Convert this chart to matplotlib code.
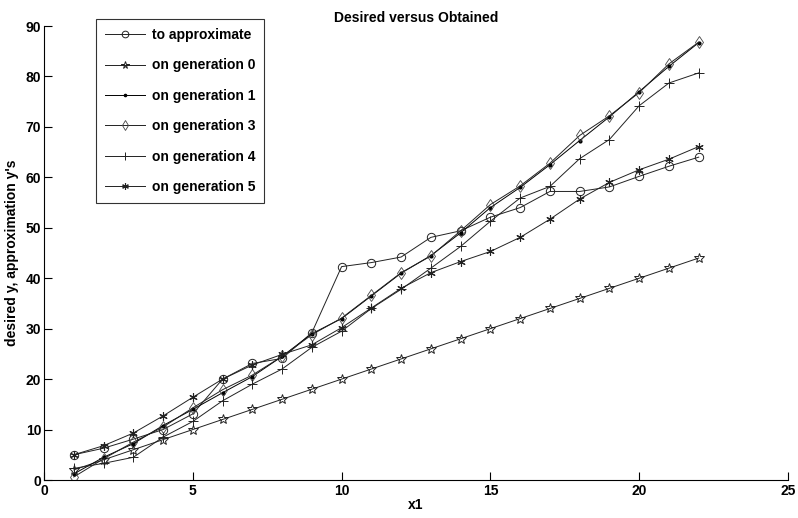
import matplotlib
matplotlib.use("Agg")
import matplotlib.pyplot as plt

x1 = list(range(1, 23))

to_approximate = [5, 6.3, 8.1, 10, 13.1, 20, 23.1, 24.1, 29.2, 42.3, 43.1, 44.2,
                  48.1, 49.4, 52.1, 54, 57.2, 57.2, 58.1, 60.2, 62.2, 64]
generation_0 = [2, 4, 6, 8, 10, 12, 14, 16, 18, 20, 22, 24,
                26, 28, 30, 32, 34, 36, 38, 40, 42, 44]
generation_1 = [1.2, 4.5, 7.2, 10.8, 14, 17.3, 20.5, 24.5, 29, 32, 36.5, 41,
                44.5, 49, 54, 58, 62.5, 67.3, 72, 77, 82, 86.7]
generation_3 = [0.6, 4.2, 7.5, 10.5, 14.3, 17.9, 20.8, 24.5, 28.8, 32.1, 36.6, 41.1,
                44.4, 49.4, 54.6, 58.3, 62.8, 68.3, 72.2, 76.8, 82.5, 86.8]
generation_4 = [2.3, 3.3, 4.5, 8.5, 11.6, 15.7, 19, 22, 26.3, 29.5, 34, 37.8,
                42, 46.3, 51.3, 55.9, 58.2, 63.7, 67.5, 74.2, 78.7, 80.7]
generation_5 = [5, 6.8, 9.3, 12.7, 16.4, 20, 22.8, 24.9, 26.8, 30.2, 34.1, 38,
                41.1, 43.3, 45.3, 48.1, 51.7, 55.7, 59, 61.5, 63.6, 66.1]

labels = ["to approximate", "on generation 0", "on generation 1",
          "on generation 3", "on generation 4", "on generation 5"]

plt.rcParams["font.family"] = ["Liberation Sans", "DejaVu Sans"]
plt.rcParams["font.weight"] = "bold"

fig = plt.figure(figsize=(7.98, 5.18), dpi=100)
ax = fig.add_axes([44 / 798, 38 / 518, 744 / 798, 454 / 518])

ink = "#222222"
line_kw = dict(color=ink, linewidth=0.7)
ax.plot(x1, to_approximate, marker="o", markersize=6, markerfacecolor="none",
        markeredgecolor=ink, markeredgewidth=0.7, label=labels[0], **line_kw)
ax.plot(x1, generation_0, marker="*", markersize=7, markerfacecolor="none",
        markeredgecolor=ink, markeredgewidth=0.7, label=labels[1], **line_kw)
ax.plot(x1, generation_1, marker=".", markersize=4, color="black",
        linewidth=0.7, label=labels[2])
ax.plot(x1, generation_3, marker="d", markersize=6, markerfacecolor="none",
        markeredgecolor="#444444", markeredgewidth=0.6, label=labels[3], **line_kw)
ax.plot(x1, generation_4, marker="+", markersize=7.5, markeredgewidth=0.7,
        label=labels[4], **line_kw)
ax.plot(x1, generation_5, marker=(6, 2, 0), markersize=6, markeredgewidth=0.8,
        label=labels[5], **line_kw)

ax.set_xlim(0, 25)
ax.set_ylim(0, 90)
ax.set_xticks(range(0, 26, 5))
ax.set_yticks(range(0, 91, 10))
ax.spines["top"].set_visible(False)
ax.spines["right"].set_visible(False)
ax.tick_params(direction="in", length=6, labelsize=10, width=0.8)
ax.tick_params(axis="y", pad=2)
ax.tick_params(axis="x", pad=3)
for lbl in ax.get_xticklabels() + ax.get_yticklabels():
    lbl.set_fontweight("bold")

ax.set_title("Desired versus Obtained", fontsize=10, fontweight="bold", pad=3)
ax.set_xlabel("x1", fontsize=10, fontweight="bold", labelpad=0)
ax.set_ylabel("desired y, approximation y's", fontsize=10, fontweight="bold", labelpad=5)

leg = ax.legend(loc="upper left", bbox_to_anchor=(96 / 798, 1 - 19 / 518),
                bbox_transform=fig.transFigure, borderaxespad=0, fancybox=False,
                frameon=True, edgecolor="black", fontsize=10, handlelength=2.9,
                labelspacing=1.18, borderpad=0.65, handletextpad=0.45,
                markerscale=0.8)
leg.get_frame().set_linewidth(0.8)

fig.savefig("out.png", dpi=100)
